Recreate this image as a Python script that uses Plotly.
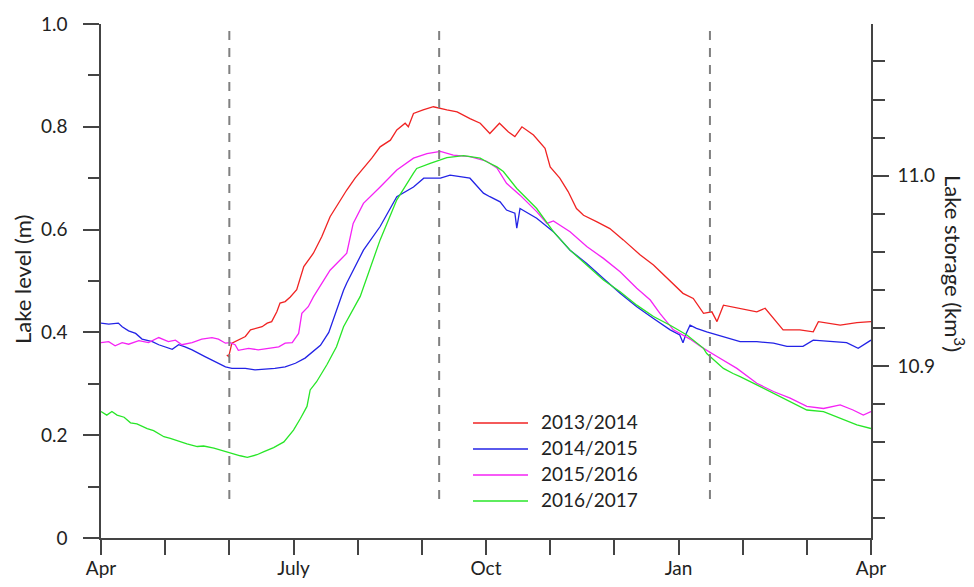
import plotly.graph_objects as go

# ---------------- data (month index from 1 April, lake level in m) ----------------
month_labels = ["Apr", "", "", "July", "", "", "Oct", "", "", "Jan", "", "", "Apr"]
series_names = ["2013/2014", "2014/2015", "2015/2016", "2016/2017"]
series_colors = ["#f02323", "#2323e6", "#f523f5", "#28e628"]

red_x = [1.96, 1.99, 2.04, 2.25, 2.33, 2.51, 2.59, 2.66, 2.74, 2.79, 2.87, 2.95, 3.05, 3.16, 3.31,
         3.44, 3.57, 3.70, 3.83, 3.96, 4.07, 4.22, 4.35, 4.51, 4.61, 4.74, 4.79, 4.87, 5.02, 5.18,
         5.39, 5.55, 5.75, 5.91, 6.06, 6.21, 6.35, 6.45, 6.56, 6.74, 6.92, 7.00, 7.15, 7.28, 7.41,
         7.52, 7.73, 7.93, 8.14, 8.40, 8.61, 8.87, 9.07, 9.23, 9.39, 9.52, 9.60,
         9.70, 9.96, 10.22, 10.35, 10.48, 10.63, 10.89, 11.10, 11.18, 11.52, 11.78, 12.0]
red_y = [0.356, 0.353, 0.379, 0.392, 0.405, 0.411, 0.418, 0.421, 0.440, 0.457, 0.460, 0.469, 0.483, 0.528, 0.554,
         0.586, 0.625, 0.651, 0.677, 0.700, 0.716, 0.739, 0.761, 0.774, 0.794, 0.807, 0.800, 0.826, 0.833, 0.839,
         0.833, 0.829, 0.816, 0.807, 0.787, 0.807, 0.790, 0.781, 0.800, 0.784, 0.758, 0.722, 0.700, 0.674, 0.641,
         0.628, 0.615, 0.602, 0.580, 0.551, 0.531, 0.499, 0.476, 0.466, 0.437, 0.440, 0.421,
         0.453, 0.447, 0.440, 0.447, 0.427, 0.405, 0.405, 0.401, 0.421, 0.414, 0.419, 0.421]

blue_x = [0.0, 0.12, 0.27, 0.33, 0.43, 0.54, 0.64, 0.80, 0.90, 1.00, 1.11, 1.21, 1.31, 1.42, 1.52,
          1.62, 1.73, 1.83, 1.94, 2.04, 2.25, 2.40, 2.56, 2.71, 2.87, 3.03, 3.18, 3.34, 3.42, 3.55,
          3.65, 3.78, 3.83, 4.09, 4.35, 4.61, 4.87, 5.03, 5.29, 5.44, 5.75, 5.96, 6.06, 6.22,
          6.32, 6.45, 6.48, 6.53, 6.79, 7.05, 7.31, 7.57, 7.83, 8.09, 8.35, 8.56, 8.61, 8.87, 9.02,
          9.07, 9.12, 9.18, 9.28, 9.44, 9.70, 9.96, 10.22, 10.48, 10.69, 10.94, 11.10, 11.41, 11.62,
          11.80, 12.0]
blue_y = [0.418, 0.416, 0.418, 0.411, 0.403, 0.398, 0.387, 0.382, 0.376, 0.372, 0.367, 0.376, 0.372, 0.366, 0.359,
          0.353, 0.346, 0.339, 0.333, 0.330, 0.330, 0.327, 0.328, 0.330, 0.333, 0.340, 0.350, 0.366, 0.375, 0.400,
          0.437, 0.482, 0.496, 0.560, 0.606, 0.664, 0.683, 0.700, 0.700, 0.706, 0.700, 0.671, 0.664, 0.654,
          0.638, 0.632, 0.603, 0.641, 0.622, 0.596, 0.560, 0.534, 0.505, 0.476, 0.450, 0.431, 0.427, 0.405, 0.395,
          0.380, 0.398, 0.414, 0.408, 0.401, 0.392, 0.382, 0.382, 0.379, 0.373, 0.373, 0.385, 0.382, 0.380,
          0.369, 0.385]

magenta_x = [0.0, 0.12, 0.22, 0.33, 0.43, 0.59, 0.74, 0.90, 1.05, 1.16, 1.26, 1.42, 1.57, 1.73, 1.83,
             1.94, 2.01, 2.09, 2.14, 2.30, 2.45, 2.61, 2.77, 2.87, 2.98, 3.08,
             3.13, 3.23, 3.31, 3.57, 3.83, 3.93, 4.09, 4.35, 4.61, 4.87, 5.08, 5.29, 5.49, 5.75, 6.01,
             6.17, 6.32, 6.53, 6.79, 6.95, 7.05, 7.31, 7.57, 7.83, 8.09, 8.35, 8.56, 8.71, 8.92, 9.18,
             9.39, 9.60, 9.91, 10.22, 10.48, 10.74, 11.0, 11.26, 11.52, 11.72, 11.88, 12.0]
magenta_y = [0.380, 0.382, 0.374, 0.380, 0.377, 0.384, 0.380, 0.390, 0.382, 0.385, 0.376, 0.380, 0.387, 0.390, 0.387,
             0.379, 0.380, 0.376, 0.365, 0.369, 0.366, 0.369, 0.372, 0.379, 0.380, 0.398,
             0.437, 0.450, 0.469, 0.521, 0.554, 0.612, 0.651, 0.683, 0.716, 0.739, 0.748, 0.752, 0.745, 0.742, 0.733,
             0.720, 0.690, 0.667, 0.635, 0.612, 0.617, 0.596, 0.567, 0.544, 0.518, 0.486, 0.463, 0.437, 0.405, 0.387,
             0.369, 0.353, 0.330, 0.301, 0.285, 0.272, 0.256, 0.252, 0.259, 0.249, 0.239, 0.246]

green_x = [0.0, 0.09, 0.17, 0.25, 0.36, 0.46, 0.56, 0.72, 0.82, 0.98, 1.08, 1.24, 1.34, 1.50, 1.60,
           1.76, 1.86, 2.02, 2.17, 2.28, 2.43, 2.54, 2.69, 2.85, 3.00, 3.11, 3.21, 3.26, 3.36, 3.52,
           3.67, 3.78, 4.04, 4.35, 4.61, 4.87, 4.92, 5.13, 5.39, 5.65, 5.91, 6.01, 6.17, 6.27,
           6.48, 6.79, 7.05, 7.31, 7.57, 7.83, 8.09, 8.35, 8.61, 8.87, 9.13, 9.39, 9.44, 9.70, 9.85,
           9.96, 10.22, 10.48, 10.74, 11.0, 11.26, 11.52, 11.78, 12.0]
green_y = [0.246, 0.239, 0.246, 0.239, 0.235, 0.224, 0.222, 0.213, 0.209, 0.197, 0.194, 0.187, 0.183, 0.178, 0.179,
           0.175, 0.171, 0.165, 0.160, 0.157, 0.162, 0.168, 0.176, 0.187, 0.210, 0.233, 0.256, 0.288, 0.304, 0.337,
           0.372, 0.411, 0.470, 0.580, 0.658, 0.710, 0.719, 0.729, 0.740, 0.744, 0.739, 0.732, 0.722, 0.713,
           0.680, 0.641, 0.596, 0.560, 0.531, 0.502, 0.479, 0.453, 0.431, 0.414, 0.395, 0.369, 0.359, 0.330, 0.320,
           0.314, 0.298, 0.282, 0.265, 0.249, 0.246, 0.233, 0.220, 0.213]

dashed_months = [2.0, 5.27, 9.49]
dashed_span = [0.076, 0.992]

level_ticks = [0, 0.2, 0.4, 0.6, 0.8, 1.0]
level_tick_text = ["0", "0.2", "0.4", "0.6", "0.8", "1.0"]
level_minor = [0.1, 0.3, 0.5, 0.7, 0.9]
storage_range = [10.8096, 11.0797]
storage_ticks = [10.9, 11.0]
storage_tick_text = ["10.9", "11.0"]
storage_minor = [10.82, 10.84, 10.86, 10.88, 10.92, 10.94, 10.96, 10.98, 11.02, 11.04, 11.06]

# ---------------- figure ----------------
# the page adds an 8px body margin, so the figure is drawn 8px smaller / offset
OFF = 8
W, H = 974 - OFF, 587 - OFF
L, R, T, B = 101, 871, 24, 538          # plot area in screen pixels
FONT = "Lato"
AX = "#444444"
TXT = "#222222"


def px(xp):
    return (xp - L) / (R - L)


def py(yp):
    return (B - yp) / (B - T)


fig = go.Figure()
xs = [red_x, blue_x, magenta_x, green_x]
ys = [red_y, blue_y, magenta_y, green_y]
for name, c, x, y in zip(series_names, series_colors, xs, ys):
    fig.add_trace(go.Scatter(x=x, y=y, mode="lines", name=name,
                             line=dict(color=c, width=1.3), showlegend=False))

# invisible trace to anchor right axis
fig.add_trace(go.Scatter(x=[None], y=[None], yaxis="y2", showlegend=False, hoverinfo="skip"))

shapes = []
for m in dashed_months:
    shapes.append(dict(type="line", xref="x", yref="y", x0=m, x1=m,
                       y0=dashed_span[0], y1=dashed_span[1],
                       line=dict(color="#808080", width=2, dash="9px,8px")))

annotations = []
legend_rows = [423, 449, 475, 501]
for name, c, ry in zip(series_names, series_colors, legend_rows):
    shapes.append(dict(type="line", xref="paper", yref="paper", x0=px(473), x1=px(528),
                       y0=py(ry), y1=py(ry), line=dict(color=c, width=1.3)))
    annotations.append(dict(xref="paper", yref="paper", x=px(539), y=py(ry - 1.5),
                            text=name, showarrow=False, xanchor="left", yanchor="middle",
                            font=dict(family=FONT, size=19, color=TXT)))

annotations.append(dict(xref="paper", yref="paper", x=px(22), y=py(280), text="Lake level (m)",
                        textangle=-90, showarrow=False, xanchor="center", yanchor="middle",
                        font=dict(family=FONT, size=22, color=TXT)))
annotations.append(dict(xref="paper", yref="paper", x=px(955), y=py(263),
                        text="Lake storage (km<sup>3</sup>)",
                        textangle=90, showarrow=False, xanchor="center", yanchor="middle",
                        font=dict(family=FONT, size=22, color=TXT)))

fig.update_layout(
    width=W, height=H,
    margin=dict(l=L - OFF, r=W - (R - OFF), t=T - OFF, b=H - (B - OFF), pad=0, autoexpand=False),
    paper_bgcolor="white", plot_bgcolor="white",
    font=dict(family=FONT, size=19, color=TXT),
    showlegend=False,
    shapes=shapes,
    annotations=annotations,
    xaxis=dict(range=[0, 12], tickmode="array", tickvals=list(range(13)), ticktext=month_labels,
               ticks="outside", ticklen=15, tickwidth=1.5, tickcolor=AX,
               showline=True, linecolor=AX, linewidth=1.5, showgrid=False, zeroline=False,
               ticklabelstandoff=-3),
    yaxis=dict(range=[0, 1], tickmode="array", tickvals=level_ticks, ticktext=level_tick_text,
               ticks="outside", ticklen=16, tickwidth=1.5, tickcolor=AX,
               minor=dict(tickmode="array", tickvals=level_minor, ticks="outside", ticklen=11,
                          tickwidth=1.5, tickcolor=AX, showgrid=False),
               showline=True, linecolor=AX, linewidth=1.5, showgrid=False, zeroline=False,
               ticklabelstandoff=12),
    yaxis2=dict(range=storage_range, overlaying="y", side="right", anchor="x",
                tickmode="array", tickvals=storage_ticks, ticktext=storage_tick_text,
                ticks="outside", ticklen=16, tickwidth=1.5, tickcolor=AX,
                minor=dict(tickmode="array", tickvals=storage_minor, ticks="outside", ticklen=12,
                           tickwidth=1.5, tickcolor=AX, showgrid=False),
                showline=True, linecolor=AX, linewidth=1.5, showgrid=False, zeroline=False,
                ticklabelstandoff=5),
)

fig.write_html("out.html")
